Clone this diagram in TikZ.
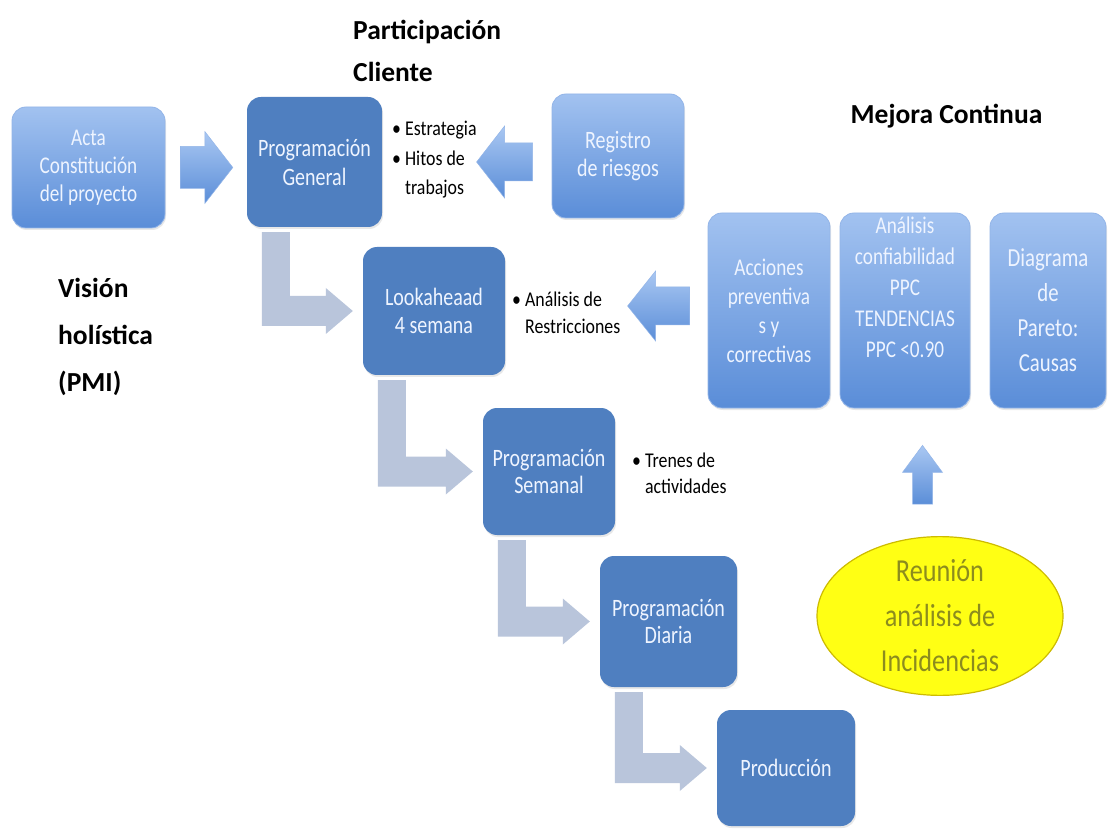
\documentclass[tikz,border=0pt]{standalone}
\usepackage{fontspec}
\setmainfont{Carlito}
\newfontfamily\condf[FakeStretch=0.8]{Carlito}
\newfontfamily\bulf[FakeStretch=0.85]{Carlito}
\newfontfamily\ellf[FakeStretch=0.82]{Carlito}
\usetikzlibrary{calc,shapes.geometric,shadows}
\definecolor{darkbox}{HTML}{4F7FC0}
\definecolor{lighttop}{HTML}{A2C2F0}
\definecolor{lightbot}{HTML}{5A8DD8}
\definecolor{lborder}{HTML}{93B5E8}
\definecolor{arrtop}{HTML}{A9C7F2}
\definecolor{arrbot}{HTML}{5B8ED8}
\definecolor{larrowc}{HTML}{B9C5DB}
\definecolor{boxtext}{HTML}{EEF4FF}
\definecolor{elltext}{HTML}{8C8C1E}
\definecolor{ellfill}{HTML}{FFFF14}
\definecolor{elldraw}{HTML}{CDBB00}
\tikzset{
  darkbox/.style={rectangle, rounded corners=14pt, fill=darkbox, text=boxtext,
    align=center, inner sep=0pt, font=\condf\fontsize{25}{29}\selectfont,
    drop shadow={opacity=0.18, shadow xshift=1pt, shadow yshift=-2pt}},
  lightbox/.style={rectangle, rounded corners=14pt, top color=lighttop, bottom color=lightbot,
    draw=lborder, line width=0.8pt, text=boxtext, align=center, inner sep=0pt,
    font=\condf\fontsize{24}{29}\selectfont,
    drop shadow={opacity=0.18, shadow xshift=1pt, shadow yshift=-2pt}},
  boxtxt/.style={text=boxtext, align=center, inner sep=0pt},
  bullets/.style={align=left, inner sep=0pt, anchor=west, text=black,
    font=\bulf\fontsize{21}{28}\selectfont},
  title/.style={align=left, inner sep=0pt, text=black, font=\bfseries\fontsize{27.5}{42}\selectfont},
  barrow/.style={top color=arrtop, bottom color=arrbot, draw=lborder, line width=0.5pt},
  larrow/.style={fill=larrowc},
  ellnode/.style={ellipse, minimum width=246pt, minimum height=138pt, fill=ellfill,
    draw=elldraw, line width=1.2pt, text=elltext, align=center, inner sep=0pt,
    font=\ellf\fontsize{32}{45}\selectfont}
}
\begin{document}
\begin{tikzpicture}[x=1pt,y=-1pt]
\useasboundingbox (0,0) rectangle (1109,834);
\fill[white] (0,0) rectangle (1109,834);

% titles
\node[title, anchor=west] (part) at (353,51) {Participación\\Cliente};
\node[title] (mejora) at (946.5,116) {Mejora Continua};
\node[title, anchor=west, font=\bfseries\fontsize{27.5}{47}\selectfont] (vision) at (58,337) {Visión\\holística\\(PMI)};

% boxes
\node[lightbox, minimum width=153pt, minimum height=121pt, font=\condf\fontsize{24}{28}\selectfont] (acta) at (88.5,167.5) {Acta\\Constitución\\del proyecto};
\node[darkbox, minimum width=135pt, minimum height=130pt] (pg) at (314.5,162) {Programación\\General};
\node[lightbox, minimum width=132pt, minimum height=124pt, font=\condf\fontsize{25}{28}\selectfont] (reg) at (618,156) {Registro\\de riesgos};
\node[darkbox, minimum width=142pt, minimum height=128pt, font=\condf\fontsize{25}{28}\selectfont] (la) at (434,311) {Lookaheaad\\4 semana};
\node[lightbox, minimum width=122pt, minimum height=195pt] (acc) at (769,310.5) {Acciones\\preventiva\\s y\\correctivas};
\node[lightbox, minimum width=130pt, minimum height=195pt] (ana) at (905,310.5) {};
\node[boxtxt, font=\condf\fontsize{24}{31}\selectfont] (anatxt) at ($(ana.center)+(0,-23)$) {Análisis\\confiabilidad\\PPC\\TENDENCIAS\\PPC <0.90};
\node[lightbox, minimum width=116pt, minimum height=195pt, font=\condf\fontsize{26}{35}\selectfont] (dia) at (1048,310.5) {Diagrama\\de\\Pareto:\\Causas};
\node[darkbox, minimum width=132pt, minimum height=127pt, font=\condf\fontsize{25}{27}\selectfont] (ps) at (549,471.5) {Programación\\Semanal};
\node[darkbox, minimum width=137pt, minimum height=131pt, font=\condf\fontsize{25}{27}\selectfont] (pd) at (668.5,621.5) {Programación\\Diaria};
\node[darkbox, minimum width=138pt, minimum height=116pt] (prod) at (786,768) {Producción};
\node[ellnode] (ell) at (940,616) {Reunión\\análisis de\\Incidencias};

% bullet texts
\node[bullets, font=\bulf\fontsize{21}{29.5}\selectfont] (b1) at (392,160) {\textbullet\ Estrategia\\\textbullet\ Hitos de\\\hphantom{\textbullet\ }trabajos};
\node[bullets, font=\bulf\fontsize{21}{27}\selectfont] (b2) at (512,313) {\textbullet\ Análisis de\\\hphantom{\textbullet\ }Restricciones};
\node[bullets, font=\bulf\fontsize{21}{26}\selectfont] (b3) at (632,473) {\textbullet\ Trenes de\\\hphantom{\textbullet\ }actividades};

% block arrows
\path[barrow] let \p1=(acta.east), \p2=(pg.west) in
  (\x1+15pt,\y1+21pt) -- (\x2-42pt,\y1+21pt) -- (\x2-42pt,\y1+36pt) -- (\x2-14pt,\y1)
  -- (\x2-42pt,\y1-36pt) -- (\x2-42pt,\y1-21pt) -- (\x1+15pt,\y1-21pt) -- cycle;
\path[barrow] let \p1=(reg.west), \p2=(pg.east) in
  (\x1-19pt,\y2+19pt) -- (\x1-47pt,\y2+19pt) -- (\x1-47pt,\y2+36pt) -- (\x1-75pt,\y2)
  -- (\x1-47pt,\y2-36pt) -- (\x1-47pt,\y2-19pt) -- (\x1-19pt,\y2-19pt) -- cycle;
\path[barrow] let \p1=(acc.west), \p2=(la.east) in
  (\x1-18pt,\y2+24pt) -- (\x1-52pt,\y2+24pt) -- (\x1-52pt,\y2+40pt) -- (\x1-80pt,\y2+5pt)
  -- (\x1-52pt,\y2-30pt) -- (\x1-52pt,\y2-14pt) -- (\x1-18pt,\y2-14pt) -- cycle;
\path[barrow] let \p1=(ana.south), \p2=(ell.north), \p3=($(ana.south)!0.5!(ell.north)$) in
  (\x3-10pt,\y2+32pt) -- (\x3-10pt,\y1-64pt) -- (\x3-20pt,\y1-64pt) -- (\x3,\y1-37pt)
  -- (\x3+20pt,\y1-64pt) -- (\x3+10pt,\y1-64pt) -- (\x3+10pt,\y2+32pt) -- cycle;

% L arrows
\foreach \s/\t in {pg/la, la/ps, ps/pd, pd/prod}{
  \fill[larrow] let \p1=(\s.south west), \p2=(\t.west) in
    (\x1+15pt,\y1-5pt) -- (\x1+43pt,\y1-5pt) -- (\x1+43pt,\y2+15pt) -- (\x2-37pt,\y2+15pt)
    -- (\x2-37pt,\y2+23pt) -- (\x2-10pt,\y2) -- (\x2-37pt,\y2-23pt) -- (\x2-37pt,\y2-15pt)
    -- (\x1+15pt,\y2-15pt) -- cycle;
}
\end{tikzpicture}
\end{document}
